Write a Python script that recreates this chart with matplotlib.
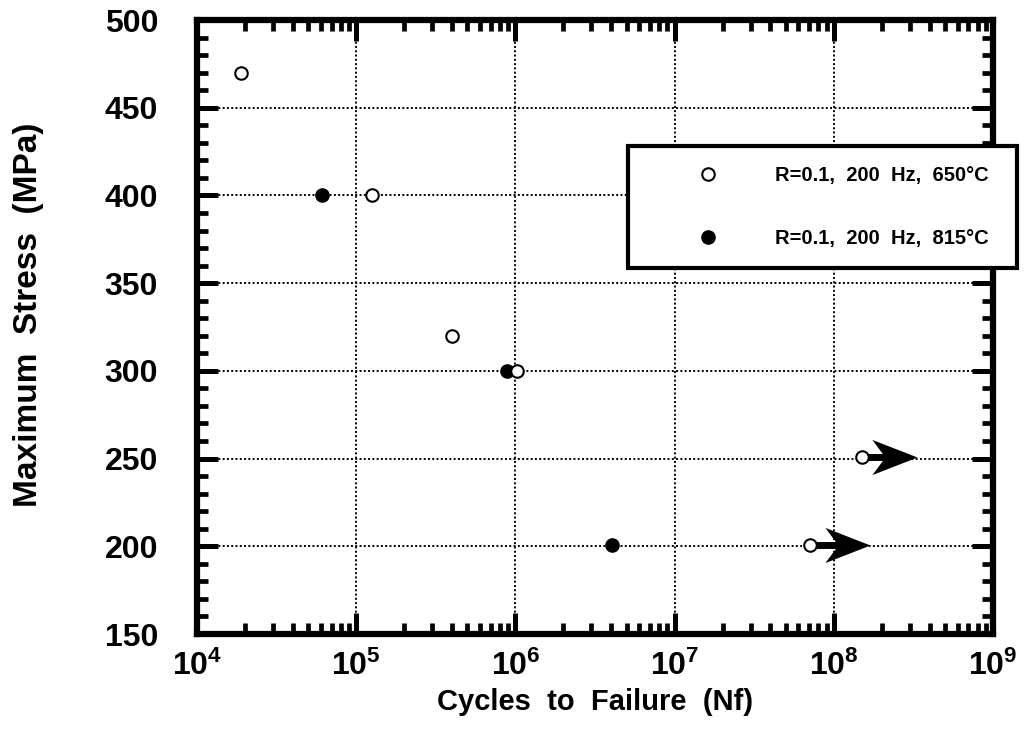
import numpy as np
import matplotlib.pyplot as plt
from matplotlib.path import Path

plt.rcParams['font.family'] = ['Liberation Sans', 'DejaVu Sans']
plt.rcParams['font.weight'] = 'bold'

# S-N data, R=0.1, 200 Hz
n_650 = [1.9e4, 1.26e5, 4.0e5, 1.02e6, 1.5e8, 7.1e7]
s_650 = [470, 400, 320, 300, 251, 201]
n_815 = [6.1e4, 8.85e5, 4.05e6]
s_815 = [400, 300, 201]

# run-outs (no failure): start point and arrow tip
runout_n = [1.5e8, 7.1e7]
runout_tip = [3.33e8, 1.69e8]
runout_s = [251, 201]

label_650 = 'R=0.1,  200  Hz,  650°C'
label_815 = 'R=0.1,  200  Hz,  815°C'

W, H = 1029, 736
fig = plt.figure(figsize=(W / 100, H / 100), dpi=100)
ax = fig.add_axes([197 / W, 1 - 634 / H, 796 / W, 614 / H])

ax.set_xscale('log')
ax.set_xlim(1e4, 1e9)
ax.set_ylim(150, 500)
ax.set_yticks(np.arange(150, 501, 50))
ax.set_yticks(np.arange(150, 501, 10), minor=True)
ax.grid(True, which='major', color='black', linestyle=(0, (1, 1.2)), linewidth=1.4)

# notched arrow head, tip at origin
head = Path([(0, 0), (-1, 0.39), (-0.71, 0), (-1, -0.39), (0, 0)],
            [Path.MOVETO, Path.LINETO, Path.LINETO, Path.LINETO, Path.CLOSEPOLY])
for n0, n1, s in zip(runout_n, runout_tip, runout_s):
    ax.plot([n0, n1 / 1.5], [s, s], color='black', linewidth=5, zorder=3,
            solid_capstyle='butt')
    ax.plot([n1], [s], marker=head, markersize=65, color='black',
            markeredgewidth=0, linestyle='none', zorder=4)

ax.plot(n_815, s_815, 'o', markersize=9, markerfacecolor='black',
        markeredgecolor='black', markeredgewidth=1.5, zorder=5, label=label_815)
ax.plot(n_650, s_650, 'o', markersize=9, markerfacecolor='white',
        markeredgecolor='black', markeredgewidth=1.5, zorder=6, label=label_650)

for sp in ax.spines.values():
    sp.set_linewidth(4.5)
ax.tick_params(which='both', direction='in', top=True, right=True, color='black')
ax.tick_params(which='major', length=15, width=3.6)
ax.tick_params(which='minor', length=8, width=3.4)
ax.tick_params(axis='y', which='major', labelsize=23, pad=28)
ax.tick_params(axis='x', which='major', labelsize=23, pad=12)
for lab in ax.get_xticklabels() + ax.get_yticklabels():
    lab.set_fontweight('bold')

ax.set_xlabel('Cycles  to  Failure  (Nf)', fontsize=21, fontweight='bold', va='baseline')
ax.xaxis.set_label_coords(0.5, (634 - 710) / 614)
ax.set_ylabel('Maximum  Stress  (MPa)', fontsize=24, fontweight='bold', va='center')
ax.yaxis.set_label_coords((29 - 197) / 796, (634 - 315) / 614)

handles, labels = ax.get_legend_handles_labels()
leg = ax.legend(handles[::-1], labels[::-1], loc='center',
                bbox_to_anchor=(628 / W, 1 - 268 / H, 389 / W, 122 / H),
                bbox_transform=fig.transFigure, mode='expand',
                frameon=True, fancybox=False, framealpha=1, borderaxespad=0,
                prop={'weight': 'bold', 'size': 14.5}, handletextpad=0.4,
                labelspacing=2.15, borderpad=1.0, handlelength=5.9,
                markerscale=1.0)
leg.get_frame().set_edgecolor('black')
leg.get_frame().set_linewidth(3)
leg.set_zorder(10)

fig.savefig('out.png', dpi=100)
